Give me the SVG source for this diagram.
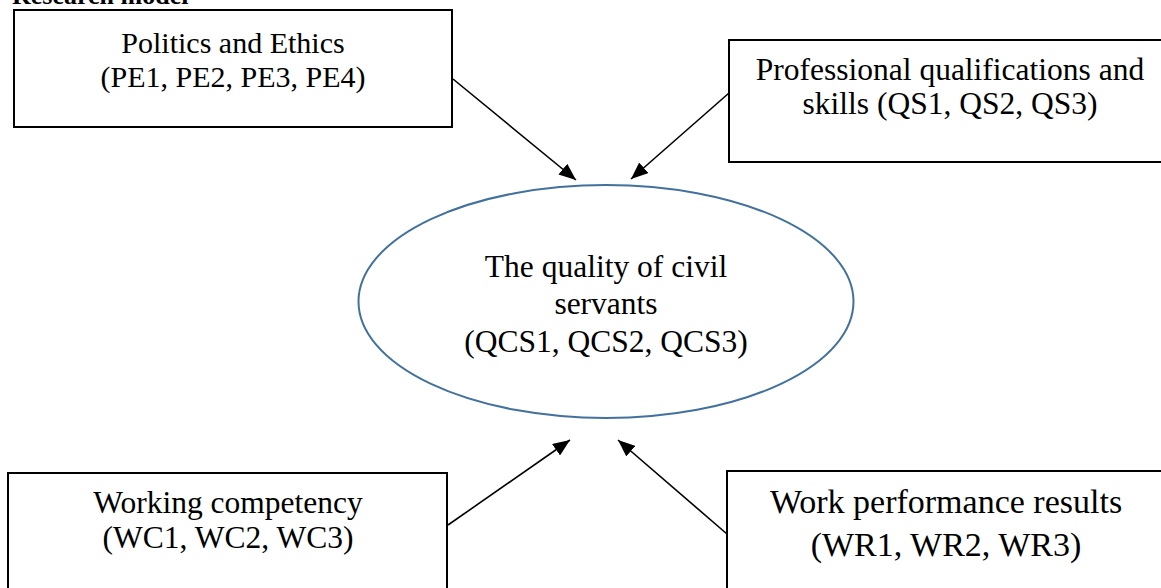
<svg xmlns="http://www.w3.org/2000/svg" width="1161" height="588" viewBox="0 0 1161 588">
<style>
.box{fill:#fff;stroke:#000;stroke-width:2}
.t{font-family:"Liberation Serif","Times New Roman",serif;fill:#000;text-anchor:middle}
.c{stroke:#000;stroke-width:1.6;fill:none;marker-end:url(#ah)}
</style>
<defs>
<marker id="ah" markerUnits="userSpaceOnUse" markerWidth="17" markerHeight="14" refX="17" refY="7" orient="auto">
<path d="M0,0 L17,7 L0,14 z" fill="#000"/>
</marker>
</defs>
<rect width="1161" height="588" fill="#fff"/>
<text x="12" y="4" font-family="Liberation Serif, serif" font-weight="bold" font-size="26">Research model</text>
<g id="connectors">
<line class="c" x1="453" y1="79" x2="576" y2="180"/>
<line class="c" x1="729" y1="93" x2="631" y2="179"/>
<line class="c" x1="448" y1="525" x2="570" y2="440"/>
<line class="c" x1="727" y1="534" x2="618" y2="440"/>
</g>
<g id="pe">
<rect class="box" x="14" y="10" width="438" height="117"/>
<text class="t" font-size="30"><tspan x="233" y="53">Politics and Ethics</tspan><tspan x="233" y="87">(PE1, PE2, PE3, PE4)</tspan></text>
</g>
<g id="qs">
<rect class="box" x="729" y="40" width="442" height="122"/>
<text class="t" font-size="31.5"><tspan x="950" y="80">Professional qualifications and</tspan><tspan x="950" y="114">skills (QS1, QS2, QS3)</tspan></text>
</g>
<g id="qcs">
<ellipse cx="606" cy="301.5" rx="247.5" ry="116.5" fill="#fff" stroke="#41719C" stroke-width="2"/>
<text class="t" font-size="31.5"><tspan x="606" y="277">The quality of civil</tspan><tspan x="606" y="314">servants</tspan><tspan x="606" y="352">(QCS1, QCS2, QCS3)</tspan></text>
</g>
<g id="wc">
<rect class="box" x="8" y="473" width="439" height="130"/>
<text class="t" font-size="31.5"><tspan x="228" y="513">Working competency</tspan><tspan x="228" y="548">(WC1, WC2, WC3)</tspan></text>
</g>
<g id="wr">
<rect class="box" x="727" y="471" width="450" height="130"/>
<text class="t" font-size="34"><tspan x="946" y="513">Work performance results</tspan><tspan x="946" y="556">(WR1, WR2, WR3)</tspan></text>
</g>
</svg>
